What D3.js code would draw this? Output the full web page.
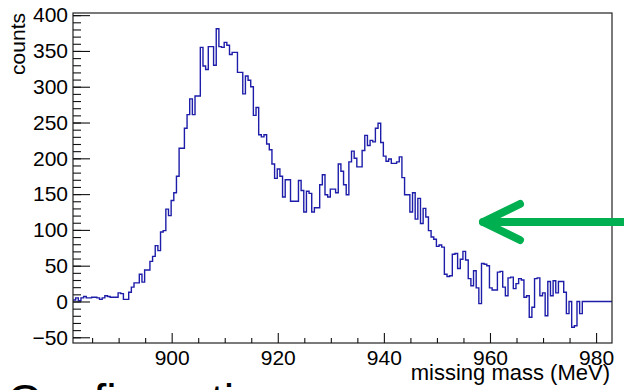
<!DOCTYPE html>
<html lang="en">
<head>
<meta charset="UTF-8" />
<title>missing mass</title>
<script src="https://d3js.org/d3.v7.min.js"></script>
<style>
  body { margin: 0; background: #fff; }
  svg { display: block; font-family: "Liberation Sans", Arial, sans-serif; }
</style>
</head>
<body>
<svg width="624" height="390"></svg>
<script>
  // histogram, 0.5 MeV bins starting at the left edge of the axis
  const binStart = 881.4;
  const binWidth = 0.5;
  const counts = [
    2, 5, 1, 5, 7, 5, 5, 6, 6, 5, 3, 5, 8, 7, 6, 6, 6, 12, 11, 3,
    3, 13, 20, 26, 26, 38, 27, 44, 44, 56, 63, 78, 71, 97, 99, 129, 120, 141, 152, 175,
    214, 214, 242, 261, 283, 261, 287, 287, 355, 329, 324, 356, 356, 330, 381, 356, 355, 362, 358, 345,
    348, 348, 320, 320, 290, 315, 309, 300, 260, 271, 233, 230, 233, 220, 212, 192, 172, 185, 175, 146,
    170, 170, 140, 140, 140, 169, 155, 125, 154, 151, 125, 131, 131, 163, 177, 149, 146, 157, 157, 152,
    192, 182, 163, 149, 195, 210, 200, 188, 188, 211, 232, 218, 225, 223, 242, 249, 222, 203, 196, 199,
    193, 193, 195, 202, 173, 149, 149, 125, 152, 115, 144, 109, 130, 118, 99, 90, 87, 77, 79, 76,
    38, 35, 36, 66, 67, 46, 59, 70, 58, 32, 22, 43, 19, -3, 53, 52, 50, 19, 16, 16,
    41, 42, 20, 8, 33, 34, 18, 25, 32, 30, 6, 8, -22, -8, 32, 33, 8, 12, -20, 28,
    8, 29, 12, 28, 28, 13, -17, 0, -36, -34, 0, -17, 0, 0, 0, 0, 0, 0, 0, 0,
    0, 0, 0
  ];

  const xRange = [881.4, 983];
  const yRange = [-58, 403];
  const xTicks = [900, 920, 940, 960, 980];
  const xMinorTicks = [885, 890, 895, 905, 910, 915, 925, 930, 935, 945, 950, 955, 965, 970, 975];
  const yTicks = [-50, 0, 50, 100, 150, 200, 250, 300, 350, 400];
  const yMinorTicks = d3.range(-50, 401, 10);

  const xTitle = "missing mass (MeV)";
  const yTitle = "counts";
  const slideText = "Configuration";

  const svg = d3.select("svg");
  const frameL = 73, frameR = 612, frameT = 13, frameB = 343;

  const x = d3.scaleLinear().domain(xRange).range([frameL, frameR]);
  const y = d3.scaleLinear().domain(yRange).range([frameB, frameT]);

  svg.append("clipPath").attr("id", "frame")
    .append("rect")
    .attr("x", frameL).attr("y", frameT)
    .attr("width", frameR - frameL).attr("height", frameB - frameT);

  // histogram as a step line
  const pts = counts.map((c, i) => [binStart + i * binWidth, c]);
  pts.push([xRange[1], counts[counts.length - 1]]);
  const line = d3.line()
    .x(d => x(d[0]))
    .y(d => y(d[1]))
    .curve(d3.curveStepAfter);

  svg.append("path")
    .attr("clip-path", "url(#frame)")
    .attr("d", line(pts))
    .attr("fill", "none")
    .attr("stroke", "#1d1daa")
    .attr("stroke-width", 1.4);

  // frame
  svg.append("rect")
    .attr("x", frameL).attr("y", frameT)
    .attr("width", frameR - frameL).attr("height", frameB - frameT)
    .attr("fill", "none")
    .attr("stroke", "#222")
    .attr("stroke-width", 1.2);

  // y axis, ticks pointing inwards
  const yMinor = svg.append("g")
    .attr("transform", `translate(${frameL},0)`)
    .call(d3.axisLeft(y).tickValues(yMinorTicks).tickSize(-8).tickFormat(""));
  const yMajor = svg.append("g")
    .attr("transform", `translate(${frameL},0)`)
    .call(d3.axisLeft(y).tickValues(yTicks).tickSize(-17).tickPadding(5));

  // x axis
  const xMinor = svg.append("g")
    .attr("transform", `translate(0,${frameB})`)
    .call(d3.axisBottom(x).tickValues(xMinorTicks).tickSize(-5).tickFormat(""));
  const xMajor = svg.append("g")
    .attr("transform", `translate(0,${frameB})`)
    .call(d3.axisBottom(x).tickValues(xTicks).tickSize(-10).tickPadding(7));

  [yMinor, yMajor, xMinor, xMajor].forEach(g => {
    g.select(".domain").remove();
    g.selectAll("line").attr("stroke", "#111").attr("stroke-width", 1.1);
    g.selectAll("text")
      .attr("fill", "#000")
      .style("font-family", "'Liberation Sans', Arial, sans-serif")
      .style("font-size", "21px");
  });

  // axis titles
  svg.append("text")
    .attr("transform", `translate(25,${frameT}) rotate(-90)`)
    .attr("text-anchor", "end")
    .style("font-size", "21px")
    .text(yTitle);

  svg.append("text")
    .attr("x", 610).attr("y", 380)
    .attr("text-anchor", "end")
    .style("font-size", "22px")
    .text(xTitle);

  // green arrow
  const arrow = svg.append("g")
    .attr("fill", "none")
    .attr("stroke", "#00b050")
    .attr("stroke-width", 8)
    .attr("stroke-linecap", "round")
    .attr("stroke-linejoin", "round");
  arrow.append("path").attr("d", "M483,222 H640");
  arrow.append("path").attr("d", "M520,204 L483,222 L520,240");

  // slide heading, mostly cut off by the bottom edge
  svg.append("text")
    .attr("x", 7).attr("y", 417)
    .style("font-size", "47px")
    .attr("fill", "#000")
    .text(slideText);
</script>
</body>
</html>
